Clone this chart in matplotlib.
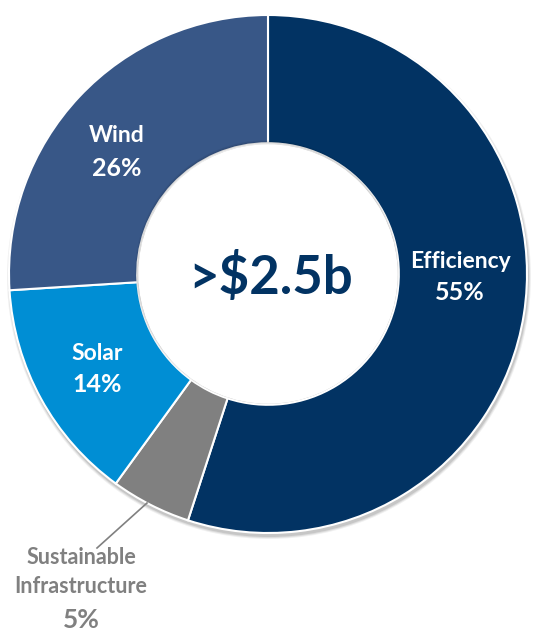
import matplotlib.pyplot as plt
from matplotlib.patches import Circle

labels = ['Efficiency', 'Sustainable\nInfrastructure', 'Solar', 'Wind']
shares = [55, 5, 14, 26]
colors = ['#023363', '#808080', '#008ED4', '#385787']
center_text = '>$2.5b'

plt.rcParams['font.family'] = ['Lato', 'DejaVu Sans']

fig = plt.figure(figsize=(5.37, 6.32), dpi=100)
ax = fig.add_axes([0, 0, 1, 1])
ax.set_aspect('equal')
ax.axis('off')

H = 632
cx, cy, r = 268, H - 274, 259
hole = 0.505

# soft shadow under the ring
for i, a in enumerate([0.06, 0.08, 0.10]):
    ax.add_patch(Circle((cx + 1, cy - 3), r + 3 - i, color='black', alpha=a, lw=0, zorder=0))

wedges, _ = ax.pie(shares, colors=colors, startangle=90, counterclock=False,
                   center=(cx, cy), radius=r,
                   wedgeprops=dict(width=r * (1 - hole), edgecolor='white', linewidth=1.5))
for w in wedges:
    w.set_zorder(2)

# inner hole shadow
for i, a in enumerate([0.05, 0.07, 0.09]):
    ax.add_patch(Circle((cx - 1, cy + 2), r * hole - i, fill=False, ec='black', alpha=a, lw=1.5, zorder=3))
ax.add_patch(Circle((cx, cy), r * hole - 1, color='white', lw=0, zorder=3))

ax.set_xlim(0, 537)
ax.set_ylim(0, H)

ax.text(271, H - 278, center_text, ha='center', va='center', fontsize=38,
        fontweight='bold', color='#023363', zorder=5)

name_kw = dict(ha='center', va='center', fontsize=16.5, fontweight='bold', color='white', zorder=5)
pct_kw = dict(name_kw, fontsize=18)
spots = {0: (460, 261, 293), 2: (97, 353, 385), 3: (117, 136, 168)}
for i, (x, y1, y2) in spots.items():
    ax.text(x, H - y1, labels[i], **name_kw)
    ax.text(x, H - y2, f'{shares[i]}%', **pct_kw)

ax.plot([147, 97], [H - 503, H - 548], color='#808080', lw=1.2, zorder=4)
ax.text(81, H - 572, labels[1], ha='center', va='center', fontsize=15.5,
        fontweight='bold', color='#808080', linespacing=1.45, zorder=5)
ax.text(81, H - 620, f'{shares[1]}%', ha='center', va='center', fontsize=19,
        fontweight='bold', color='#808080', zorder=5)

fig.savefig('out.png', dpi=100)
